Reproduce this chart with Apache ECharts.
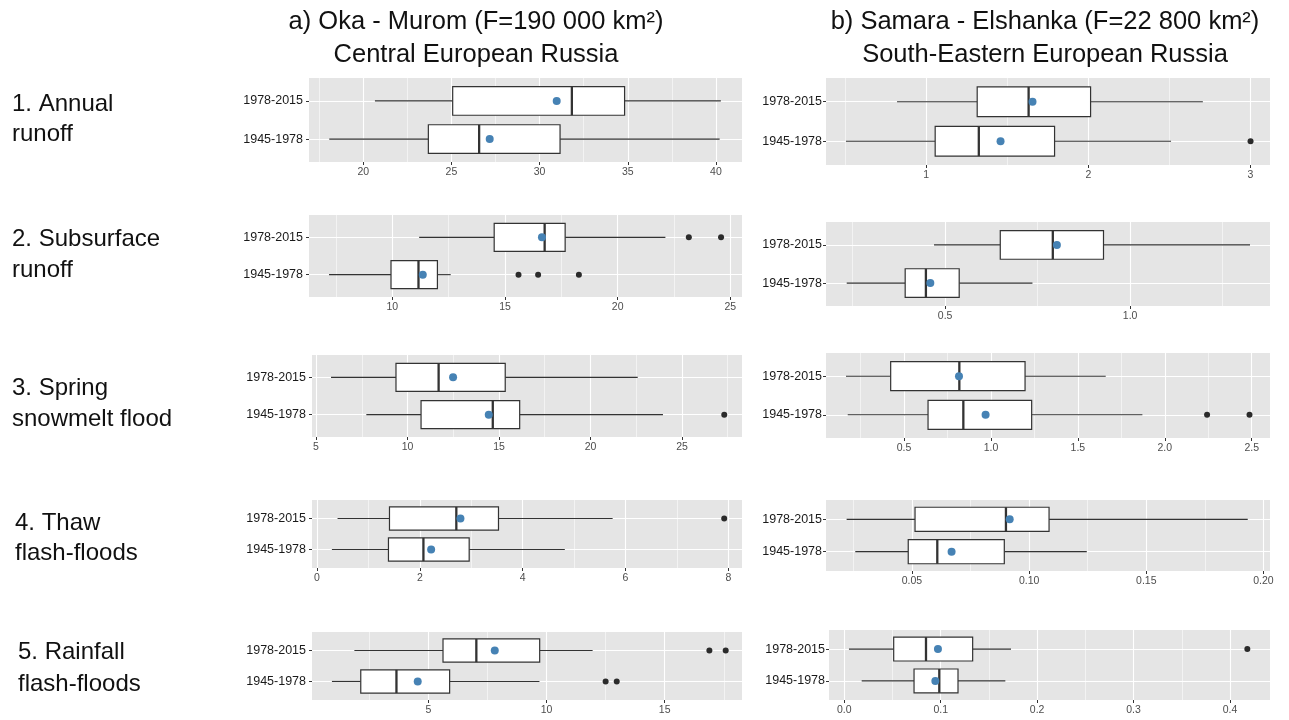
<!DOCTYPE html>
<html><head><meta charset="utf-8">
<script src="https://cdn.jsdelivr.net/npm/echarts@6/dist/echarts.min.js"></script>
<style>html,body{margin:0;padding:0;background:#fff}#c{width:1289px;height:720px}</style>
</head><body><div id="c"></div><script>
const periods = ['1945-1978', '1978-2015'];
const rowLabels = [['1. Annual', 'runoff'], ['2. Subsurface', 'runoff'], ['3. Spring', 'snowmelt flood'], ['4. Thaw', 'flash-floods'], ['5. Rainfall', 'flash-floods']];
const columnTitles = [['a) Oka - Murom (F=190 000 km²)', 'Central European Russia'], ['b) Samara - Elshanka (F=22 800 km²)', 'South-Eastern European Russia']];

// each row: [lower whisker, Q1, median, Q3, upper whisker]
const okaBox1945 = [
  [18.07, 23.69, 26.57, 31.16, 40.21],
  [7.19, 9.94, 11.16, 12.0, 12.59],
  [7.75, 10.74, 14.66, 16.13, 23.96],
  [0.29, 1.39, 2.07, 2.96, 4.82],
  [0.92, 2.14, 3.65, 5.90, 9.70]];
const okaBox1978 = [
  [20.66, 25.07, 31.83, 34.82, 40.28],
  [11.19, 14.52, 16.76, 17.67, 22.12],
  [5.82, 9.37, 11.70, 15.34, 22.58],
  [0.40, 1.41, 2.71, 3.53, 5.75],
  [1.87, 5.62, 7.03, 9.71, 11.95]];
const okaMean1945 = [27.17, 11.35, 14.44, 2.22, 4.55];
const okaMean1978 = [30.97, 16.64, 12.49, 2.79, 7.81];
const okaOut1945 = [[], [15.6, 16.47, 18.28], [27.31], [], [12.5, 12.97]];
const okaOut1978 = [[], [23.16, 24.59], [], [7.92], [16.89, 17.58]];

const samaraBox1945 = [
  [0.506, 1.056, 1.325, 1.792, 2.51],
  [0.234, 0.392, 0.448, 0.538, 0.736],
  [0.176, 0.638, 0.841, 1.234, 1.871],
  [0.0258, 0.0484, 0.0608, 0.0894, 0.1246],
  [0.018, 0.0723, 0.0985, 0.1179, 0.167]];
const samaraBox1978 = [
  [0.821, 1.315, 1.632, 2.014, 2.706],
  [0.470, 0.649, 0.791, 0.928, 1.324],
  [0.166, 0.423, 0.818, 1.196, 1.660],
  [0.0221, 0.0513, 0.0901, 0.1085, 0.1933],
  [0.0048, 0.0512, 0.0847, 0.1331, 0.1729]];
const samaraMean1945 = [1.459, 0.460, 0.969, 0.0669, 0.0944];
const samaraMean1978 = [1.656, 0.802, 0.816, 0.0917, 0.0971];
const samaraOut1945 = [[3.0], [], [2.243, 2.487], [], []];
const samaraOut1978 = [[], [], [], [], [0.418]];

const okaTicks = [[20, 25, 30, 35, 40], [10, 15, 20, 25], [5, 10, 15, 20, 25], [0, 2, 4, 6, 8], [5, 10, 15]];
const okaMinor = [[17.5, 22.5, 27.5, 32.5, 37.5], [7.5, 12.5, 17.5, 22.5], [7.5, 12.5, 17.5, 22.5, 27.5], [1, 3, 5, 7], [2.5, 7.5, 12.5, 17.5]];
const okaDecimals = [0, 0, 0, 0, 0];
const samaraTicks = [[1, 2, 3], [0.5, 1.0], [0.5, 1.0, 1.5, 2.0, 2.5], [0.05, 0.10, 0.15, 0.20], [0.0, 0.1, 0.2, 0.3, 0.4]];
const samaraMinor = [[0.5, 1.5, 2.5], [0.25, 0.75, 1.25], [0.25, 0.75, 1.25, 1.75, 2.25], [0.025, 0.075, 0.125, 0.175], [0.05, 0.15, 0.25, 0.35]];
const samaraDecimals = [0, 1, 1, 2, 1];

// ---- layout (axis extents and panel rectangles) ----
const okaRanges = [[16.92, 41.48], [6.30, 25.52], [4.78, 28.28], [-0.097, 8.266], [0.077, 18.27]];
const samaraRanges = [[0.383, 3.12], [0.178, 1.378], [0.051, 2.605], [0.0133, 0.2028], [-0.0159, 0.4415]];
const okaRects = [[309, 78, 433, 84], [309, 215, 433, 82], [312, 355, 430, 82], [312, 500, 430, 68], [312, 632, 430, 68]];
const samaraRects = [[826, 78, 444, 87], [826, 222, 444, 84], [826, 353, 444, 85], [826, 500, 444, 71], [829, 630, 441, 70]];

const FONT = '"Liberation Sans", Arial, Helvetica, sans-serif';
const DARK = '#333333';

const stations = [
  {box1945: okaBox1945, box1978: okaBox1978, mean1945: okaMean1945, mean1978: okaMean1978, out1945: okaOut1945, out1978: okaOut1978,
   ticks: okaTicks, minor: okaMinor, dec: okaDecimals, ranges: okaRanges, rects: okaRects, labelMargin: 6},
  {box1945: samaraBox1945, box1978: samaraBox1978, mean1945: samaraMean1945, mean1978: samaraMean1978, out1945: samaraOut1945, out1978: samaraOut1978,
   ticks: samaraTicks, minor: samaraMinor, dec: samaraDecimals, ranges: samaraRanges, rects: samaraRects, labelMargin: 4}
];

function renderBox(params, api) {
  const y = api.value(0);
  const a = api.coord([api.value(1), y]);
  const b = api.coord([api.value(2), y]);
  const m = api.coord([api.value(3), y]);
  const c = api.coord([api.value(4), y]);
  const d = api.coord([api.value(5), y]);
  const h = Math.abs(api.size([0, 0.75])[1]);
  const cy = m[1];
  return {
    type: 'group',
    children: [
      {type: 'line', shape: {x1: a[0], y1: cy, x2: b[0], y2: cy}, style: {stroke: DARK, lineWidth: 1.1}},
      {type: 'line', shape: {x1: c[0], y1: cy, x2: d[0], y2: cy}, style: {stroke: DARK, lineWidth: 1.1}},
      {type: 'rect', shape: {x: b[0], y: cy - h / 2, width: c[0] - b[0], height: h}, style: {fill: '#ffffff', stroke: DARK, lineWidth: 1.2}},
      {type: 'line', shape: {x1: m[0], y1: cy - h / 2, x2: m[0], y2: cy + h / 2}, style: {stroke: DARK, lineWidth: 2.3}}
    ]
  };
}

const grids = [], xAxes = [], yAxes = [], series = [];
stations.forEach((st, s) => {
  for (let r = 0; r < 5; r++) {
    const g = grids.length;
    const rc = st.rects[r];
    grids.push({left: rc[0], top: rc[1], width: rc[2], height: rc[3], show: true,
      backgroundColor: '#E5E5E5', borderWidth: 0, containLabel: false, outerBoundsMode: 'none'});
    const dec = st.dec[r];
    xAxes.push({type: 'value', gridIndex: g, min: st.ranges[r][0], max: st.ranges[r][1], position: 'bottom',
      axisLine: {show: false, onZero: false},
      axisTick: {show: true, length: 3, customValues: st.ticks[r], lineStyle: {color: DARK, width: 1}},
      axisLabel: {customValues: st.ticks[r], formatter: v => Number(v).toFixed(dec), fontSize: 10.5, color: '#4D4D4D', margin: 5, fontFamily: FONT, hideOverlap: false},
      splitLine: {show: true, lineStyle: {color: '#ffffff', width: 1.1}}});
    xAxes.push({type: 'value', gridIndex: g, min: st.ranges[r][0], max: st.ranges[r][1], position: 'bottom',
      axisLine: {show: false, onZero: false},
      axisTick: {show: false, customValues: st.minor[r]},
      axisLabel: {show: false},
      splitLine: {show: true, lineStyle: {color: '#ffffff', width: 0.55}}});
    yAxes.push({type: 'value', gridIndex: g, min: 0.4, max: 2.6, position: 'left',
      axisLine: {show: false, onZero: false},
      axisTick: {show: true, length: 3, customValues: [1, 2], lineStyle: {color: DARK, width: 1}},
      axisLabel: {customValues: [1, 2], formatter: v => periods[Math.round(v) - 1], fontSize: 12.5, color: '#1A1A1A', margin: st.labelMargin, fontFamily: FONT},
      splitLine: {show: true, lineStyle: {color: '#ffffff', width: 1.1}}});
    const xi = 2 * g;
    series.push({type: 'custom', xAxisIndex: xi, yAxisIndex: g, silent: true, z: 2,
      renderItem: renderBox, encode: {x: [1, 2, 3, 4, 5], y: 0},
      data: [[1].concat(st.box1945[r]), [2].concat(st.box1978[r])]});
    const outData = st.out1945[r].map(v => [v, 1]).concat(st.out1978[r].map(v => [v, 2]));
    series.push({type: 'scatter', xAxisIndex: xi, yAxisIndex: g, silent: true, z: 3,
      symbol: 'circle', symbolSize: 6, itemStyle: {color: '#2B2B2B', opacity: 1}, data: outData});
    series.push({type: 'scatter', xAxisIndex: xi, yAxisIndex: g, silent: true, z: 4,
      symbol: 'circle', symbolSize: 8, itemStyle: {color: '#4682B4', opacity: 1},
      data: [[st.mean1945[r], 1], [st.mean1978[r], 2]]});
  }
});

// text: column titles and row labels
const titleCenters = [476, 1045];
const rowLabelX = [12, 12, 12, 15, 18];
const rowLabelY = [[104, 134], [239, 270], [388, 419], [523, 553], [652, 684]];
const graphics = [];
columnTitles.forEach((t, i) => {
  t.forEach((line, j) => {
    graphics.push({type: 'text', x: titleCenters[i], y: j === 0 ? 22 : 55,
      style: {text: line, fill: '#111', font: '25.5px ' + FONT, textAlign: 'center', textVerticalAlign: 'middle', align: 'center', verticalAlign: 'middle'}});
  });
});
rowLabels.forEach((lines, i) => {
  lines.forEach((line, j) => {
    graphics.push({type: 'text', x: rowLabelX[i], y: rowLabelY[i][j],
      style: {text: line, fill: '#111', font: '24px ' + FONT, textAlign: 'left', textVerticalAlign: 'middle', align: 'left', verticalAlign: 'middle'}});
  });
});

const chart = echarts.init(document.getElementById('c'), null, {renderer: 'canvas'});
chart.setOption({
  animation: false,
  backgroundColor: '#ffffff',
  grid: grids,
  xAxis: xAxes,
  yAxis: yAxes,
  series: series,
  graphic: graphics,
  tooltip: {show: false}
});
</script></body></html>
